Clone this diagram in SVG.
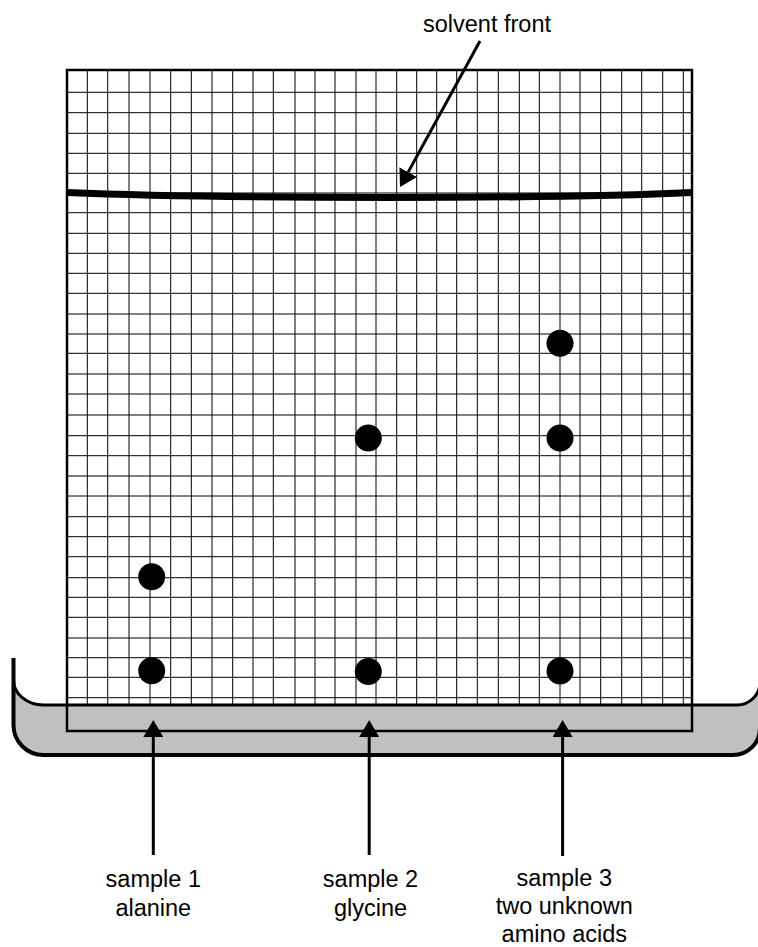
<svg xmlns="http://www.w3.org/2000/svg" width="758" height="947" viewBox="0 0 758 947">
  <defs>
    <style>
      .grid { fill: none; stroke: #000; stroke-width: 1; }
      .wall { fill: none; stroke: #000; stroke-width: 4; stroke-linejoin: round; }
      .surface { fill: none; stroke: #000; stroke-width: 3; }
      .paper { fill: none; stroke: #000; stroke-width: 2.5; }
      .front { fill: none; stroke: #000; stroke-width: 7; }
      .spot { fill: #000; }
      .conn { fill: none; stroke: #000; stroke-width: 3; }
      .label { font-family: "Liberation Sans", Arial, sans-serif; font-size: 23.5px; fill: #000; text-anchor: middle; }
    </style>
    <marker id="ah" markerUnits="userSpaceOnUse" markerWidth="18" markerHeight="21" refX="0" refY="10" orient="auto" viewBox="0 0 18 21">
      <path d="M0,0 L17,10 L0,20 Z" fill="#000"/>
    </marker>
  </defs>

  <rect x="0" y="0" width="758" height="947" fill="#fff"/>

  <g id="tray">
    <path d="M13.5,680 A30 25 0 0 0 43.5,705 H737 A23 23 0 0 0 760,682 V728 A27 27 0 0 1 733,755 H43.5 A30 30 0 0 1 13.5,725 Z" fill="#c0c0c0"/>
  </g>

  <g id="paper">
    <path class="grid" d="M87.3,70V705 M107.7,70V705 M129,70V705 M150,70V705 M170.7,70V705 M191.3,70V705 M212,70V705 M232.7,70V705 M253,70V705 M273.3,70V705 M295,70V705 M315,70V705 M335,70V705 M356,70V705 M376,70V705 M396.7,70V705 M416.7,70V705 M436.7,70V705 M456.7,70V705 M477.3,70V705 M498.3,70V705 M519.3,70V705 M539.3,70V705 M560,70V705 M580,70V705 M600.7,70V705 M621.7,70V705 M641.7,70V705 M662.7,70V705 M683.3,70V705"/>
    <path class="grid" d="M67,92.3H692 M67,112.7H692 M67,133.3H692 M67,153.3H692 M67,173.3H692 M67,193H692 M67,212.7H692 M67,233.3H692 M67,253.3H692 M67,273.3H692 M67,293.3H692 M67,314H692 M67,334H692 M67,353.3H692 M67,374H692 M67,394H692 M67,415H692 M67,435.7H692 M67,455.7H692 M67,476H692 M67,496H692 M67,516.7H692 M67,536.7H692 M67,556.7H692 M67,577.7H692 M67,597.3H692 M67,617.3H692 M67,638H692 M67,657.7H692 M67,677.3H692 M67,697.7H692"/>
    <path class="front" d="M67,192.5 C220,199 560,199 692,192.5"/>
    <rect class="paper" x="67" y="70" width="625" height="661"/>
  </g>

  <g id="tray-outline">
    <path class="surface" d="M13.5,680 A30 25 0 0 0 43.5,705 H737 A23 23 0 0 0 760,682"/>
    <path class="wall" d="M13.5,658 V725 A30 30 0 0 0 43.5,755 H733 A27 27 0 0 0 760,728 V658"/>
  </g>

  <g id="spots">
    <circle class="spot" cx="151.7" cy="576.7" r="13.5"/>
    <circle class="spot" cx="151.7" cy="670.7" r="13.5"/>
    <circle class="spot" cx="368.3" cy="438" r="13.5"/>
    <circle class="spot" cx="368.3" cy="671.5" r="13.5"/>
    <circle class="spot" cx="560" cy="343.3" r="13.5"/>
    <circle class="spot" cx="560" cy="438" r="13.5"/>
    <circle class="spot" cx="560" cy="671" r="13.5"/>
  </g>

  <g id="connectors">
    <line class="conn" x1="480" y1="41" x2="408.2" y2="172.1" marker-end="url(#ah)"/>
    <line class="conn" x1="153.3" y1="855" x2="153.3" y2="737" marker-end="url(#ah)"/>
    <line class="conn" x1="369.2" y1="855" x2="369.2" y2="737" marker-end="url(#ah)"/>
    <line class="conn" x1="562.6" y1="856" x2="562.6" y2="737" marker-end="url(#ah)"/>
  </g>

  <g id="label-solvent-front">
    <text class="label" x="487" y="32">solvent front</text>
  </g>
  <g id="label-sample-1">
    <text class="label" x="153.3" y="887">sample 1</text>
    <text class="label" x="153.3" y="915.5">alanine</text>
  </g>
  <g id="label-sample-2">
    <text class="label" x="370.5" y="887">sample 2</text>
    <text class="label" x="370.5" y="915.5">glycine</text>
  </g>
  <g id="label-sample-3">
    <text class="label" x="564.3" y="885.5">sample 3</text>
    <text class="label" x="564.3" y="913.5">two unknown</text>
    <text class="label" x="564.3" y="941.5">amino acids</text>
  </g>
</svg>
